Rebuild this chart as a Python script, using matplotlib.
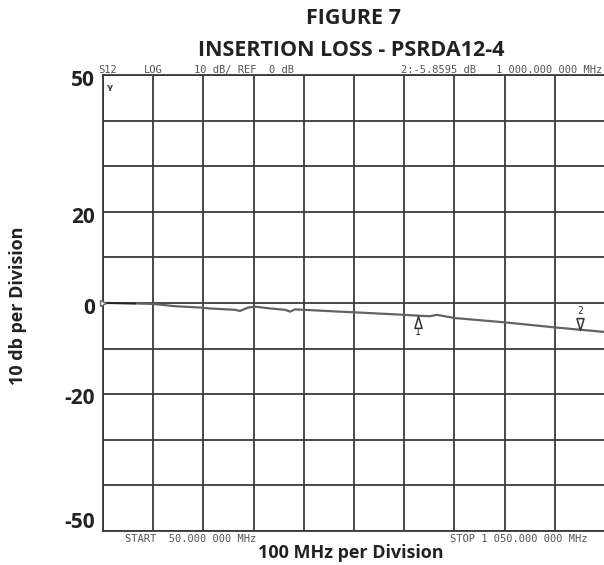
import matplotlib.pyplot as plt
from matplotlib.path import Path
import numpy as np

# trace (MHz, dB)
freq = [50, 60, 114, 150, 193, 243, 263, 313, 323, 339, 353, 383, 413, 423, 432,
        452, 522, 552, 642, 681, 701, 715, 751, 851, 950, 1000, 1050]
s12 = [0.0, 0.0, -0.1, -0.2, -0.7, -1.0, -1.2, -1.5, -1.75, -1.0, -0.8, -1.2, -1.5,
       -1.9, -1.4, -1.5, -1.9, -2.05, -2.55, -2.8, -2.9, -2.6, -3.3, -4.25, -5.35,
       -5.86, -6.35]

ytick_vals = [50, 20, 0, -20, -50]
ytick_pix = [81, 217, 308, 398, 522]   # where the labels sit (image pixels)
mk1_f, mk1_db = 677, -2.8
mk2_f, mk2_db = 1000, -5.8595

W, H = 604, 565
fig = plt.figure(figsize=(W / 100, H / 100), dpi=100)
ax = fig.add_axes([103 / W, 1 - 531 / H, 502 / W, 456 / H])

ax.plot(freq, s12, color='#636363', lw=1.6, zorder=3)
ax.plot(freq[:3], s12[:3], color='#222222', lw=1.3, zorder=4)

ax.set_xlim(50, 1050)
ax.set_ylim(-50, 50)
ax.set_xticks(np.arange(50, 1051, 100))
ax.set_yticks(np.arange(-50, 51, 10))
ax.grid(True, color='#3a3a3a', lw=1.3)
ax.tick_params(length=0, labelbottom=False, labelleft=False)
for sp in ax.spines.values():
    sp.set_color('#3a3a3a')
    sp.set_linewidth(1.3)
ax.spines['right'].set_visible(False)

lab = dict(fontfamily='Open Sans', fontweight='bold', fontsize=15, color='#222222')
for v, py in zip(ytick_vals, ytick_pix):
    fig.text(95 / W, 1 - py / H, str(v), ha='right', va='center', **lab)

# marker triangles: tall and narrow, tip on the trace
up = Path([(0, 0.5), (-0.3, -0.5), (0.3, -0.5), (0, 0.5)],
          [Path.MOVETO, Path.LINETO, Path.LINETO, Path.CLOSEPOLY])
down = Path([(0, -0.5), (-0.3, 0.5), (0.3, 0.5), (0, -0.5)],
            [Path.MOVETO, Path.LINETO, Path.LINETO, Path.CLOSEPOLY])
ax.plot(mk1_f, mk1_db - 1.3, marker=up, ms=8.5, mfc='white', mec='#333333', mew=1.1, zorder=5)
ax.text(mk1_f, mk1_db - 3.6, '1', fontfamily='DejaVu Sans Mono', fontsize=7,
        ha='center', va='center', color='#333333')
ax.plot(mk2_f, mk2_db + 1.2, marker=down, ms=8.5, mfc='white', mec='#333333', mew=1.1, zorder=5)
ax.text(mk2_f, mk2_db + 4.0, '2', fontfamily='DejaVu Sans Mono', fontsize=7,
        ha='center', va='center', color='#333333')
ax.plot(50, 0, marker='>', ms=5, mfc='white', mec='#666666', mew=1, clip_on=False, zorder=5)
fig.text(107 / W, 1 - 90 / H, 'ᵞ', fontsize=10, fontweight='bold', color='#333333', va='center')

# header / footer of the analyzer display
mono = dict(fontfamily='DejaVu Sans Mono', fontsize=7.5, color='#555555', va='center')
top = 1 - 70 / H
fig.text(98 / W, top, 'S12', **mono)
fig.text(144 / W, top, 'LOG', **mono)
fig.text(194 / W, top, '10 dB/ REF  0 dB', **mono)
fig.text(401 / W, top, '2:-5.8595 dB', **mono)
fig.text(602 / W, top, '1 000.000 000 MHz', ha='right', **mono)
bot = 1 - 539 / H
fig.text(125 / W, bot, 'START  50.000 000 MHz', **mono)
fig.text(588 / W, bot, 'STOP 1 050.000 000 MHz', ha='right', **mono)

ttl = dict(fontfamily='Open Sans', fontweight='bold', color='#222222', ha='center', va='center')
fig.text(353 / W, 1 - 18 / H, 'FIGURE 7', fontsize=15.5, **ttl)
fig.text(351 / W, 1 - 50 / H, 'INSERTION LOSS - PSRDA12-4', fontsize=15.5, **ttl)
fig.text(351 / W, 1 - 553 / H, '100 MHz per Division', fontsize=13, **ttl)
fig.text(18 / W, 1 - 306 / H, '10 db per Division', rotation=90, fontsize=13, **ttl)

fig.savefig('out.png', dpi=100)
